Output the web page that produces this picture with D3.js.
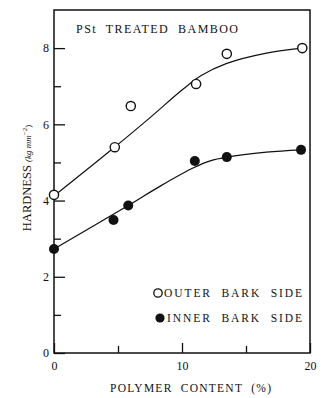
<!DOCTYPE html>
<html>
<head>
  <meta charset="UTF-8">
  <title>PSt Treated Bamboo Hardness</title>
  <script src="https://d3js.org/d3.v7.min.js"></script>
  <style>
    body { margin: 0; padding: 0; background: #fff; }
    svg { display: block; }
    svg text { fill: #111; }
    .axis text { font-size: 12px; }
  </style>
</head>
<body>
  <svg id="chart"></svg>
  <script>
    // measured points
    const outerX = [0, 4.75, 6.0, 11.1, 13.5, 19.4];
    const outerY = [4.15, 5.4, 6.48, 7.06, 7.85, 8.0];
    const innerX = [0, 4.65, 5.8, 11.0, 13.5, 19.3];
    const innerY = [2.73, 3.49, 3.87, 5.04, 5.14, 5.33];

    // hand-drawn fit curves
    const outerFitX = [0, 4.7, 7.55, 10.0, 11.5, 13.5, 16.6, 19.4];
    const outerFitY = [4.12, 5.39, 6.19, 6.9, 7.28, 7.6, 7.87, 8.0];
    const innerFitX = [0, 5.8, 8.3, 10.9, 12.2, 13.5, 16.6, 19.3];
    const innerFitY = [2.73, 3.87, 4.38, 4.86, 5.04, 5.14, 5.27, 5.33];

    const yMajor = [0, 2, 4, 6, 8];
    const yMinor = [1, 3, 5, 7];
    const xMajor = [0, 10, 20];
    const xMinor = [5, 15];

    const W = 323, H = 398;
    const l = 54, t = 10, r = 13, b = 45;
    const width = W - l - r;
    const height = H - t - b;
    const serif = "'Liberation Serif', 'Times New Roman', serif";

    const svg = d3.select("#chart").attr("width", W).attr("height", H);
    const g = svg.append("g").attr("transform", `translate(${l},${t})`);

    const x = d3.scaleLinear().domain([0, 20]).range([0, width]);
    const y = d3.scaleLinear().domain([0, 9]).range([height, 0]);

    // frame
    g.append("rect")
      .attr("x", 0).attr("y", 0)
      .attr("width", width).attr("height", height)
      .attr("fill", "none").attr("stroke", "#111").attr("stroke-width", 1.5);

    function styleAxis(sel) {
      sel.attr("font-family", serif);
      sel.select(".domain").remove();
      sel.selectAll("line").attr("stroke", "#111").attr("stroke-width", 1.3);
    }

    g.append("g").attr("class", "axis")
      .call(d3.axisLeft(y).tickValues(yMajor).tickSize(-11).tickPadding(5).tickFormat(d3.format("d")))
      .call(styleAxis);
    g.append("g").attr("class", "axis")
      .call(d3.axisLeft(y).tickValues(yMinor).tickSize(-7).tickFormat(""))
      .call(styleAxis);

    g.append("g").attr("class", "axis")
      .attr("transform", `translate(0,${height})`)
      .call(d3.axisBottom(x).tickValues(xMajor).tickSize(-10).tickPadding(8).tickFormat(d3.format("d")))
      .call(styleAxis);
    g.append("g").attr("class", "axis")
      .attr("transform", `translate(0,${height})`)
      .call(d3.axisBottom(x).tickValues(xMinor).tickSize(-7).tickFormat(""))
      .call(styleAxis);

    // curves
    const line = d3.line()
      .x(d => x(d[0])).y(d => y(d[1]))
      .curve(d3.curveCatmullRom.alpha(0.5));

    g.append("path")
      .datum(d3.zip(outerFitX, outerFitY))
      .attr("d", line)
      .attr("fill", "none").attr("stroke", "#111").attr("stroke-width", 1.2);
    g.append("path")
      .datum(d3.zip(innerFitX, innerFitY))
      .attr("d", line)
      .attr("fill", "none").attr("stroke", "#111").attr("stroke-width", 1.3);

    // markers
    g.selectAll(".outer")
      .data(d3.zip(outerX, outerY))
      .enter().append("circle")
      .attr("class", "outer")
      .attr("cx", d => x(d[0])).attr("cy", d => y(d[1]))
      .attr("r", 4.6)
      .attr("fill", "#fff").attr("stroke", "#111").attr("stroke-width", 1.4);

    g.selectAll(".inner")
      .data(d3.zip(innerX, innerY))
      .enter().append("circle")
      .attr("class", "inner")
      .attr("cx", d => x(d[0])).attr("cy", d => y(d[1]))
      .attr("r", 5)
      .attr("fill", "#111");

    function label(xp, yp, len, size, txt) {
      return svg.append("text")
        .attr("x", xp).attr("y", yp)
        .attr("font-family", serif)
        .attr("textLength", len).attr("lengthAdjust", "spacing")
        .style("font-size", size + "px")
        .style("white-space", "pre")
        .text(txt);
    }

    // title inside plot
    label(76, 33, 162, 12, "PSt  TREATED  BAMBOO");

    // legend
    svg.append("circle")
      .attr("cx", 158).attr("cy", 293).attr("r", 4.2)
      .attr("fill", "#fff").attr("stroke", "#111").attr("stroke-width", 1.3);
    label(164, 297, 138, 11.5, "OUTER  BARK  SIDE");

    svg.append("circle")
      .attr("cx", 160).attr("cy", 318).attr("r", 4.6)
      .attr("fill", "#111");
    label(167, 322, 135, 11.5, "INNER  BARK  SIDE");

    // x axis title
    label(110, 392, 161, 11.5, "POLYMER  CONTENT  (%)");

    // y axis title
    const yt = svg.append("text")
      .attr("transform", "translate(31,178) rotate(-90)")
      .attr("text-anchor", "middle")
      .attr("font-family", serif)
      .style("font-size", "12.5px");
    yt.append("tspan").text("HARDNESS ");
    yt.append("tspan").style("font-style", "italic").style("font-size", "9px").text("(kg mm");
    yt.append("tspan").style("font-size", "7px").attr("dy", -4).text("−2");
    yt.append("tspan").style("font-size", "9px").attr("dy", 4).text(")");
  </script>
</body>
</html>
